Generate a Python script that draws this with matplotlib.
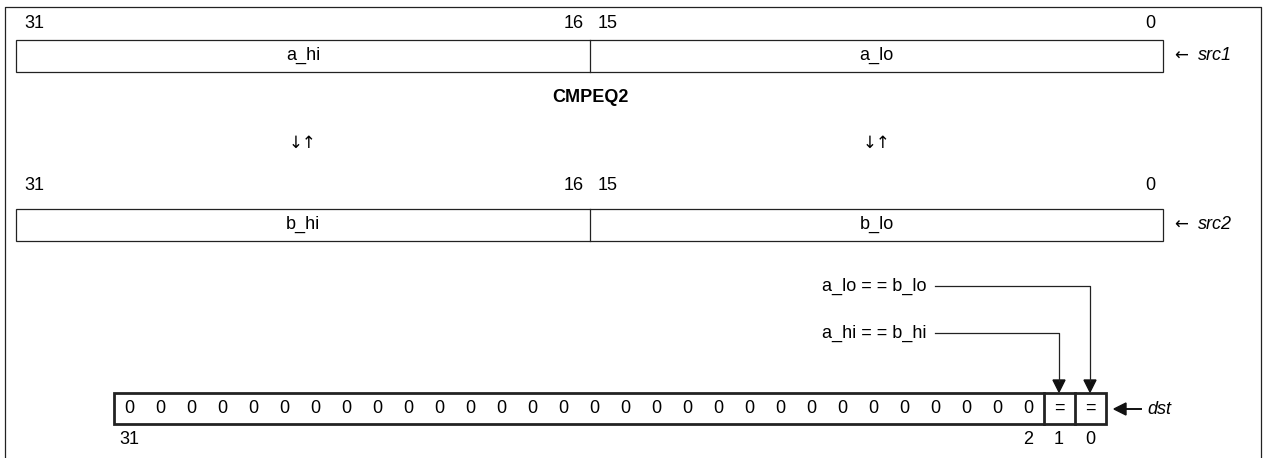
import matplotlib
matplotlib.use('Agg')
import matplotlib.pyplot as plt
from matplotlib.patches import Rectangle, Polygon

plt.rcParams['font.family'] = ['Liberation Sans', 'DejaVu Sans']

# --- data ---
src1_fields = ["a_hi", "a_lo"]
src2_fields = ["b_hi", "b_lo"]
field_bits = ["31", "16", "15", "0"]
arrow_marks = ["\u2193\u2191", "\u2193\u2191"]
dst_bits = ["0", "0", "0", "0", "0", "0", "0", "0", "0", "0", "0", "0", "0", "0", "0", "0",
            "0", "0", "0", "0", "0", "0", "0", "0", "0", "0", "0", "0", "0", "0", "=", "="]
dst_bit_labels = {31: "31", 2: "2", 1: "1", 0: "0"}
compares = [("a_lo = = b_lo", 0), ("a_hi = = b_hi", 1)]

FS = 13
fig = plt.figure(figsize=(12.7, 4.58), dpi=100)
ax = fig.add_axes([0, 0, 1, 1])
ax.set_xlim(0, 1270)
ax.set_ylim(458, 0)
ax.axis('off')

# outer frame (open at bottom)
ax.plot([4.5, 4.5, 1260.5, 1260.5], [470, 6.5, 6.5, 470], color='#222', lw=0.9)

# register boxes
left, mid, right = 16, 590, 1163
def draw_reg(top, fields, label_y, tag):
    ax.add_patch(Rectangle((left, top), right - left, 32, fill=False, ec='#222', lw=0.9))
    ax.plot([mid, mid], [top, top + 32], color='#222', lw=0.9)
    pos = [(24, 'left'), (584, 'right'), (598, 'left'), (1155, 'right')]
    for (x, ha), b in zip(pos, field_bits):
        ax.text(x, label_y, b, ha=ha, va='center', fontsize=FS)
    for (a, b), f in zip([(left, mid), (mid, right)], fields):
        ax.text((a + b) / 2, top + 16, f, ha='center', va='center', fontsize=FS)
    ax.text(1174, top + 16, "\u2190", ha='left', va='center', fontsize=FS - 1,
            family=['DejaVu Sans'])
    ax.text(1198, top + 16, tag, ha='left', va='center', fontsize=FS, style='italic')

draw_reg(39.5, src1_fields, 23, "src1")
draw_reg(208.5, src2_fields, 186, "src2")

ax.text(590, 98, "CMPEQ2", ha='center', va='center', fontsize=FS, fontweight='bold')
for (a, b), m in zip([(left, mid), (mid, right)], arrow_marks):
    ax.text((a + b) / 2, 143, m, ha='center', va='center', fontsize=FS - 1,
            family=['DejaVu Sans'])

# dst register
cell = 31.0
d_left, d_top, d_h = 113.5, 393, 31
def cx(bit):
    return d_left + (31 - bit + 0.5) * cell

ax.add_patch(Rectangle((d_left, d_top), 32 * cell, d_h, fill=False, ec='#222', lw=2))
for bit in (1, 0):
    x = d_left + (32 - bit - 1) * cell
    ax.plot([x, x], [d_top, d_top + d_h], color='#222', lw=2)
for i, v in enumerate(dst_bits):
    bit = 31 - i
    ax.text(cx(bit), d_top + d_h / 2, v, ha='center', va='center', fontsize=FS)
for bit, lab in dst_bit_labels.items():
    ax.text(cx(bit), 440, lab, ha='center', va='center', fontsize=FS)

# compare result arrows
for (txt, bit), y in zip(compares, [286, 333]):
    ax.text(926, y, txt, ha='right', va='center', fontsize=FS)
    x = cx(bit)
    ax.plot([935, x, x], [y, y, 381], color='#222', lw=0.9)
    ax.add_patch(Polygon([[x - 6, 380], [x + 6, 380], [x, 392]], closed=True, fc='#111', ec='#111'))

# dst pointer
ax.add_patch(Polygon([[1114, 409], [1126, 403], [1126, 415]], closed=True, fc='#111', ec='#111'))
ax.plot([1125, 1141], [409, 409], color='#111', lw=1.4)
ax.text(1147, 409, "dst", ha='left', va='center', fontsize=FS, style='italic')

fig.savefig("out.png", dpi=100)
